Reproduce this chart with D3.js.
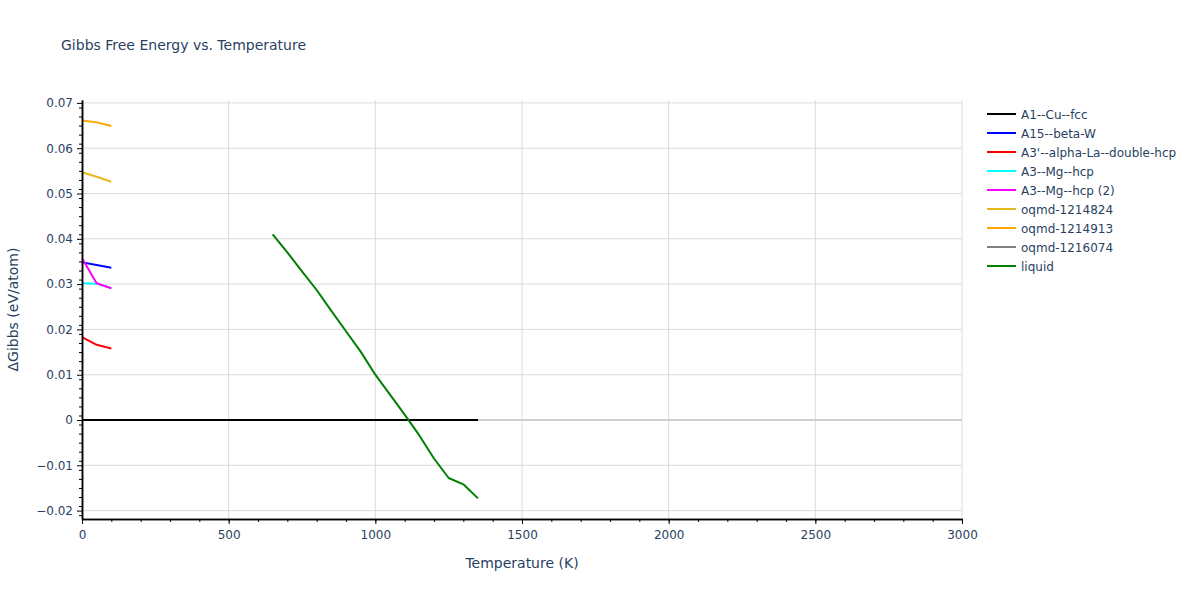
<!DOCTYPE html>
<html><head><meta charset="utf-8">
<script src="https://cdn.jsdelivr.net/npm/d3@7"></script>
<style>body{margin:0;background:#fff;font-family:"DejaVu Sans",verdana,arial,sans-serif;}</style>
</head><body><svg id="c" width="1200" height="600"></svg>
<script>
const seriesNames = ["A1--Cu--fcc","A15--beta-W","A3'--alpha-La--double-hcp","A3--Mg--hcp","A3--Mg--hcp (2)","oqmd-1214824","oqmd-1214913","oqmd-1216074","liquid"];
const seriesColors = ["#000000","#0000ff","#ff0000","#00ffff","#ff00ff","#e6b820","#ffa500","#808080","#008000"];
const tA1 = [0, 1350];
const gA1 = [0, 0];
const tShort = [0, 50, 100];
const gA15 = [0.0348, 0.0342, 0.0336];
const gA3p = [0.0183, 0.0166, 0.0158];
const gA3 = [0.0302, 0.0301, 0.0291];
const gA3b = [0.0357, 0.0302, 0.0291];
const g1214824 = [0.0547, 0.0537, 0.0526];
const g1214913 = [0.0661, 0.0657, 0.0649];
const t1216074 = [];
const g1216074 = [];
const tLiquid = [650,700,750,800,850,900,950,1000,1050,1100,1150,1200,1250,1300,1350];
const gLiquid = [0.0410,0.0370,0.0328,0.0287,0.0241,0.0196,0.0151,0.0100,0.0056,0.0012,-0.0034,-0.0085,-0.0128,-0.0142,-0.0173];
const xTicks = [0,500,1000,1500,2000,2500,3000];
const yTicks = [-0.02,-0.01,0,0.01,0.02,0.03,0.04,0.05,0.06,0.07];

const seriesT = [tA1,tShort,tShort,tShort,tShort,tShort,tShort,t1216074,tLiquid];
const seriesG = [gA1,gA15,gA3p,gA3,gA3b,g1214824,g1214913,g1216074,gLiquid];

const L=82,R=962,T=100,B=519;
const FONT='"DejaVu Sans",verdana,arial,sans-serif';
const svg=d3.select("#c").style("font-family",FONT);
const x=d3.scaleLinear().domain([0,3000]).range([L,R]);
const y=d3.scaleLinear().domain([-0.02185,0.07064]).range([B,T]);
const txt="#2a3f5f";

// grid
svg.append("g").selectAll("line").data(xTicks.filter(d=>d>0)).join("line")
 .attr("x1",d=>x(d)).attr("x2",d=>x(d)).attr("y1",T).attr("y2",B)
 .attr("stroke","#dcdcdc").attr("stroke-width",1);
svg.append("g").selectAll("line").data(yTicks.filter(d=>d!==0)).join("line")
 .attr("x1",L).attr("x2",R).attr("y1",d=>y(d)).attr("y2",d=>y(d))
 .attr("stroke","#dcdcdc").attr("stroke-width",1);
svg.append("line").attr("x1",L).attr("x2",R).attr("y1",y(0)).attr("y2",y(0))
 .attr("stroke","#d0d0d0").attr("stroke-width",2);

// lines
const line=d3.line();
const g=svg.append("g");
seriesNames.forEach((n,i)=>{
  const pts=seriesT[i].map((t,j)=>[x(t),y(seriesG[i][j])]);
  if(pts.length) g.append("path").attr("d",line(pts)).attr("fill","none")
   .attr("stroke",seriesColors[i]).attr("stroke-width",2).attr("stroke-linejoin","round");
});

// axes
const fmtY=d=>d===0?"0":d3.format(".2f")(d).replace("-","\u2212");
const xAxis=d3.axisBottom(x).tickValues(xTicks).tickSize(5).tickSizeOuter(0).tickPadding(6).tickFormat(d3.format("d"));
const xMinor=d3.axisBottom(x).tickValues(d3.range(0,3001,100)).tickSize(3).tickSizeOuter(0).tickFormat("");
const yAxis=d3.axisLeft(y).tickValues(yTicks).tickSize(5).tickSizeOuter(0).tickPadding(4).tickFormat(fmtY);
const yMinor=d3.axisLeft(y).tickValues(d3.range(-21,71,2).map(v=>v/1000)).tickSize(3).tickSizeOuter(0).tickFormat("");
function style(gg){gg.select(".domain").attr("stroke","#000").attr("stroke-width",1.5);
 gg.selectAll(".tick line").attr("stroke","#000");
 gg.selectAll("text").attr("fill",txt).style("font-size","12px").style("font-family",FONT);}
svg.append("g").attr("transform",`translate(0,${B})`).call(xMinor).call(style);
svg.append("g").attr("transform",`translate(0,${B})`).call(xAxis).call(style);
svg.append("g").attr("transform",`translate(${L},0)`).call(yMinor).call(style);
svg.append("g").attr("transform",`translate(${L},0)`).call(yAxis).call(style);

// titles
svg.append("text").attr("x",61).attr("y",50).text("Gibbs Free Energy vs. Temperature")
 .attr("fill",txt).style("font-size","14px");
svg.append("text").attr("x",(L+R)/2).attr("y",568).attr("text-anchor","middle").text("Temperature (K)")
 .attr("fill",txt).style("font-size","14px");
svg.append("text").attr("transform",`translate(18,${(T+B)/2}) rotate(-90)`).attr("text-anchor","middle")
 .text("\u0394Gibbs (eV/atom)").attr("fill",txt).style("font-size","14px");

// legend
const lg=svg.append("g").attr("transform","translate(986,114)");
seriesNames.forEach((n,i)=>{
  const row=lg.append("g").attr("transform",`translate(0,${i*19})`);
  row.append("line").attr("x1",1).attr("x2",30).attr("y1",0).attr("y2",0).attr("stroke",seriesColors[i]).attr("stroke-width",2);
  row.append("text").attr("x",35).attr("y",4.5).text(n).attr("fill",txt).style("font-size","12px");
});
</script></body></html>
